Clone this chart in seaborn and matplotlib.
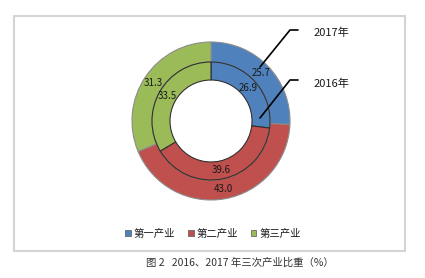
import matplotlib
matplotlib.use("Agg")
import matplotlib.pyplot as plt
import seaborn as sns
from matplotlib.patches import Rectangle, Patch

categories = ["第一产业", "第二产业", "第三产业"]
values_2017 = [25.7, 43.0, 31.3]
values_2016 = [26.9, 39.6, 33.5]
year_labels = ["2017年", "2016年"]
caption = "图 2   2016、2017 年三次产业比重（%）"

sns.set_theme(style="white")
plt.rcParams['font.family'] = ['Noto Sans CJK SC', 'DejaVu Sans']

colors = ["#4F81BD", "#C0504D", "#9BBB59"]

W, H = 425, 278
fig = plt.figure(figsize=(W / 100, H / 100), dpi=100)
ax = fig.add_axes([0, 0, 1, 1])
ax.set_xlim(0, W)
ax.set_ylim(0, H)
ax.axis("off")

def Y(y):
    return H - y

cx, cy = 211, Y(121)
r_out, r_mid, r_in = 79, 59, 41

# outer ring: 2017
w1, _, t1 = ax.pie(values_2017, colors=colors, radius=r_out, center=(cx, cy),
                   startangle=90, counterclock=False,
                   wedgeprops=dict(width=r_out - r_mid, edgecolor="#8c8c8c", linewidth=0.8),
                   autopct="%.1f", pctdistance=(r_out + r_mid) / 2 / r_out,
                   textprops=dict(fontsize=7, color="#1a1a1a"), frame=True)
# inner ring: 2016
w2, _, t2 = ax.pie(values_2016, colors=colors, radius=r_mid, center=(cx, cy),
                   startangle=90, counterclock=False,
                   wedgeprops=dict(width=r_mid - r_in, edgecolor="#303030", linewidth=0.8),
                   autopct="%.1f", pctdistance=(r_mid + r_in) / 2 / r_mid,
                   textprops=dict(fontsize=7, color="#1a1a1a"), frame=True)
for t, v in zip(t1, values_2017):
    t.set_text(f"{v:.1f}")
for t, v in zip(t2, values_2016):
    t.set_text(f"{v:.1f}")

ax.set_xlim(0, W)
ax.set_ylim(0, H)
ax.set_aspect("equal")
ax.axis("off")

# frame
ax.add_patch(Rectangle((14.5, Y(251)), 390.5, 235, fill=False,
                       edgecolor="#d4d4d4", linewidth=1.5))

# leader lines
ax.plot([260, 290, 298], [Y(67), Y(30), Y(30)], color="black", lw=1.2)
ax.plot([260, 290, 298], [Y(118), Y(80), Y(80)], color="black", lw=1.2)
ax.text(314, Y(33), year_labels[0], fontsize=8, va="center", ha="left", color="#1a1a1a")
ax.text(314, Y(84), year_labels[1], fontsize=8, va="center", ha="left", color="#1a1a1a")

# legend
handles = [Patch(facecolor=c, edgecolor="#555555", linewidth=0.5) for c in colors]
ax.legend(handles, categories, ncol=3, loc="center",
          bbox_to_anchor=(213 / W, 1 - 234 / H), frameon=False,
          fontsize=7.5, handlelength=0.55, handleheight=0.55,
          handletextpad=0.3, columnspacing=1.2, labelcolor="#1a1a1a")

ax.text(240, Y(263), caption, fontsize=7.5, ha="center", va="center", color="#333333")

fig.savefig("out.png", dpi=100)
